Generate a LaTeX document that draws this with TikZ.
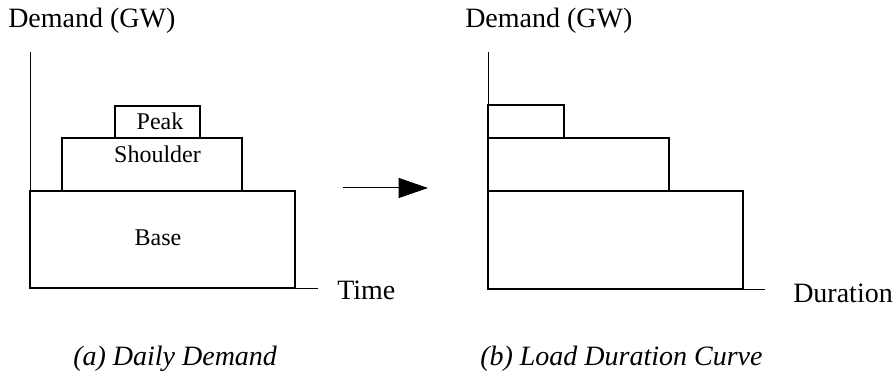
\documentclass[tikz,border=0pt]{standalone}
\usepackage{fontspec}
\setmainfont{Liberation Serif}
\usetikzlibrary{arrows.meta}

\begin{document}
\begin{tikzpicture}[x=0.75pt,y=-0.75pt,
    axis/.style={line width=0.75pt},
    block/.style={line width=0.9pt},
    axislabel/.style={font=\fontsize{21}{25}\selectfont, inner sep=0pt},
    blocklabel/.style={font=\fontsize{18}{22}\selectfont, inner sep=0pt, anchor=base},
    caption/.style={font=\fontsize{21}{25}\selectfont\itshape, inner sep=0pt, anchor=base west}]
\useasboundingbox (0,0) rectangle (894,374);

% ---------- (a) daily demand ----------
\draw[axis] (30,52) -- (30,289) -- (318,289);
\draw[block] (30,191) rectangle (295,288);
\draw[block] (62,138) rectangle (242,191);
\draw[block] (115,106) rectangle (200,138);
\node[axislabel, anchor=base west] (ylabA) at (8,28) {Demand (GW)};
\node[axislabel, anchor=base west] (xlabA) at (337,300) {Time};
\node[blocklabel] (peakA) at (160,130) {Peak};
\node[blocklabel] (shoulderA) at (157.5,163) {Shoulder};
\node[blocklabel] (baseA) at (158,246) {Base};
\node[caption] (capA) at (73,366) {(a) Daily Demand};

% ---------- transformation arrow ----------
\coordinate (arrS) at (343,188);
\coordinate (arrE) at (428,188);
\draw[line width=0.75pt, -{Triangle[length=22pt, width=15pt]}] (arrS) -- (arrE);

% ---------- (b) load duration curve ----------
\draw[axis] (488,52) -- (488,290) -- (765,290);
\draw[block] (488,191) rectangle (743,289);
\draw[block] (488,138) rectangle (669,191);
\draw[block] (488,105) rectangle (564,138);
\node[axislabel, anchor=base west] (ylabB) at (465,28) {Demand (GW)};
\node[axislabel, anchor=base west] (xlabB) at (793,303) {Duration};
\node[caption] (capB) at (480,366) {(b) Load Duration Curve};
\end{tikzpicture}
\end{document}
